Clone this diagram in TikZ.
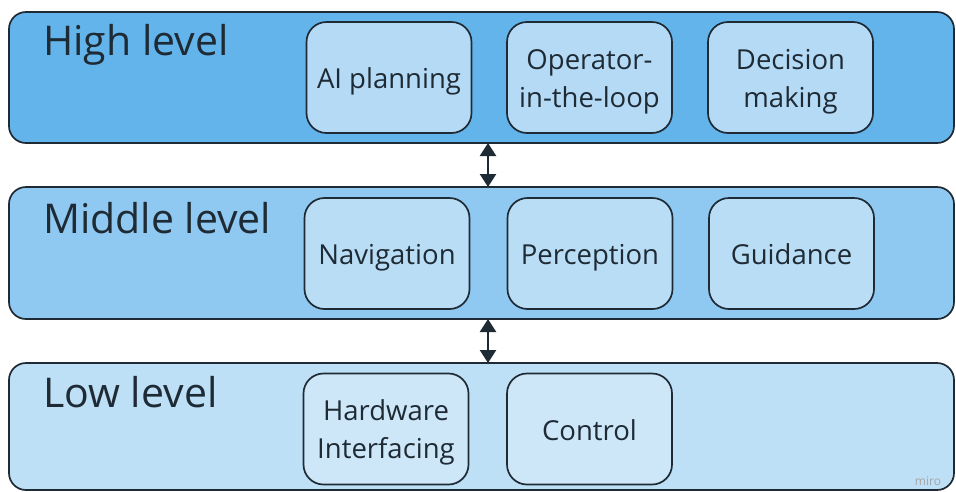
\documentclass[tikz,border=0pt]{standalone}
\usepackage{fontspec}
\setmainfont{Open Sans}
\usetikzlibrary{arrows.meta}

\definecolor{inkdark}{HTML}{1E2A34}
\definecolor{highfill}{HTML}{64B4EC}
\definecolor{highbox}{HTML}{B4DAF6}
\definecolor{midfill}{HTML}{8FC8F1}
\definecolor{midbox}{HTML}{BADDF6}
\definecolor{lowfill}{HTML}{BDE0F7}
\definecolor{lowbox}{HTML}{CDE7F9}

% strut that lowers a two-line label a little inside its box
\newcommand{\firstlinestrut}{\rule{0pt}{28pt}}

\tikzset{
  band/.style={draw=inkdark, line width=1.7pt, rounded corners=17pt},
  levelname/.style={anchor=base west, inner sep=0pt, text=inkdark,
    font=\fontsize{41}{48}\selectfont},
  module/.style={draw=inkdark, line width=1.7pt, rounded corners=20pt,
    minimum width=165pt, minimum height=111pt, inner sep=0pt,
    align=center, text=inkdark, font=\fontsize{27.5}{38}\selectfont},
  oneline/.style={module, text height=22pt, text depth=0pt},
  twoline/.style={module},
  link/.style={draw=inkdark, line width=2.4pt,
    {Triangle[width=16pt,length=13pt]}-{Triangle[width=16pt,length=13pt]}},
  watermark/.style={text=black!35, inner sep=2pt, font=\fontsize{12}{13}\selectfont}
}

\begin{document}
\begin{tikzpicture}[x=1pt,y=1pt]
\useasboundingbox (0,0) rectangle (956,-491);
\fill[white] (0,0) rectangle (956,-491);

% the three layers
\path[band, fill=highfill] (9,-12) rectangle (954,-143);
\path[band, fill=midfill]  (9,-187) rectangle (954,-319);
\path[band, fill=lowfill]  (9,-363) rectangle (954,-490);

\coordinate (highbot) at (488,-143);
\coordinate (midtop)  at (488,-187);
\coordinate (midbot)  at (488,-319);
\coordinate (lowtop)  at (488,-363);

\node[levelname] (hname) at (43,-55)  {High level};
\node[levelname] (mname) at (43,-233) {Middle level};
\node[levelname] (lname) at (43,-407) {Low level};

% high level modules
\node[oneline, fill=highbox] (plan) at (389,-77.5) {AI planning};
\node[twoline, fill=highbox] (oper) at (589.5,-77.5) {\firstlinestrut Operator-\\in-the-loop};
\node[twoline, fill=highbox] (deci) at (790.5,-77.5) {\firstlinestrut Decision\\making};

% middle level modules
\node[oneline, fill=midbox] (navi) at (387,-253.5) {Navigation};
\node[oneline, fill=midbox] (perc) at (590,-253.5) {Perception};
\node[oneline, fill=midbox] (guid) at (791.5,-253.5) {Guidance};

% low level modules
\node[twoline, fill=lowbox] (hard) at (386,-429) {\firstlinestrut Hardware\\Interfacing};
\node[oneline, fill=lowbox] (ctrl) at (589.5,-429) {Control};

% links between layers
\draw[link] (highbot) -- (midtop);
\draw[link] (midbot) -- (lowtop);

\node[watermark] (mark) at (928,-481) {miro};
\end{tikzpicture}
\end{document}
